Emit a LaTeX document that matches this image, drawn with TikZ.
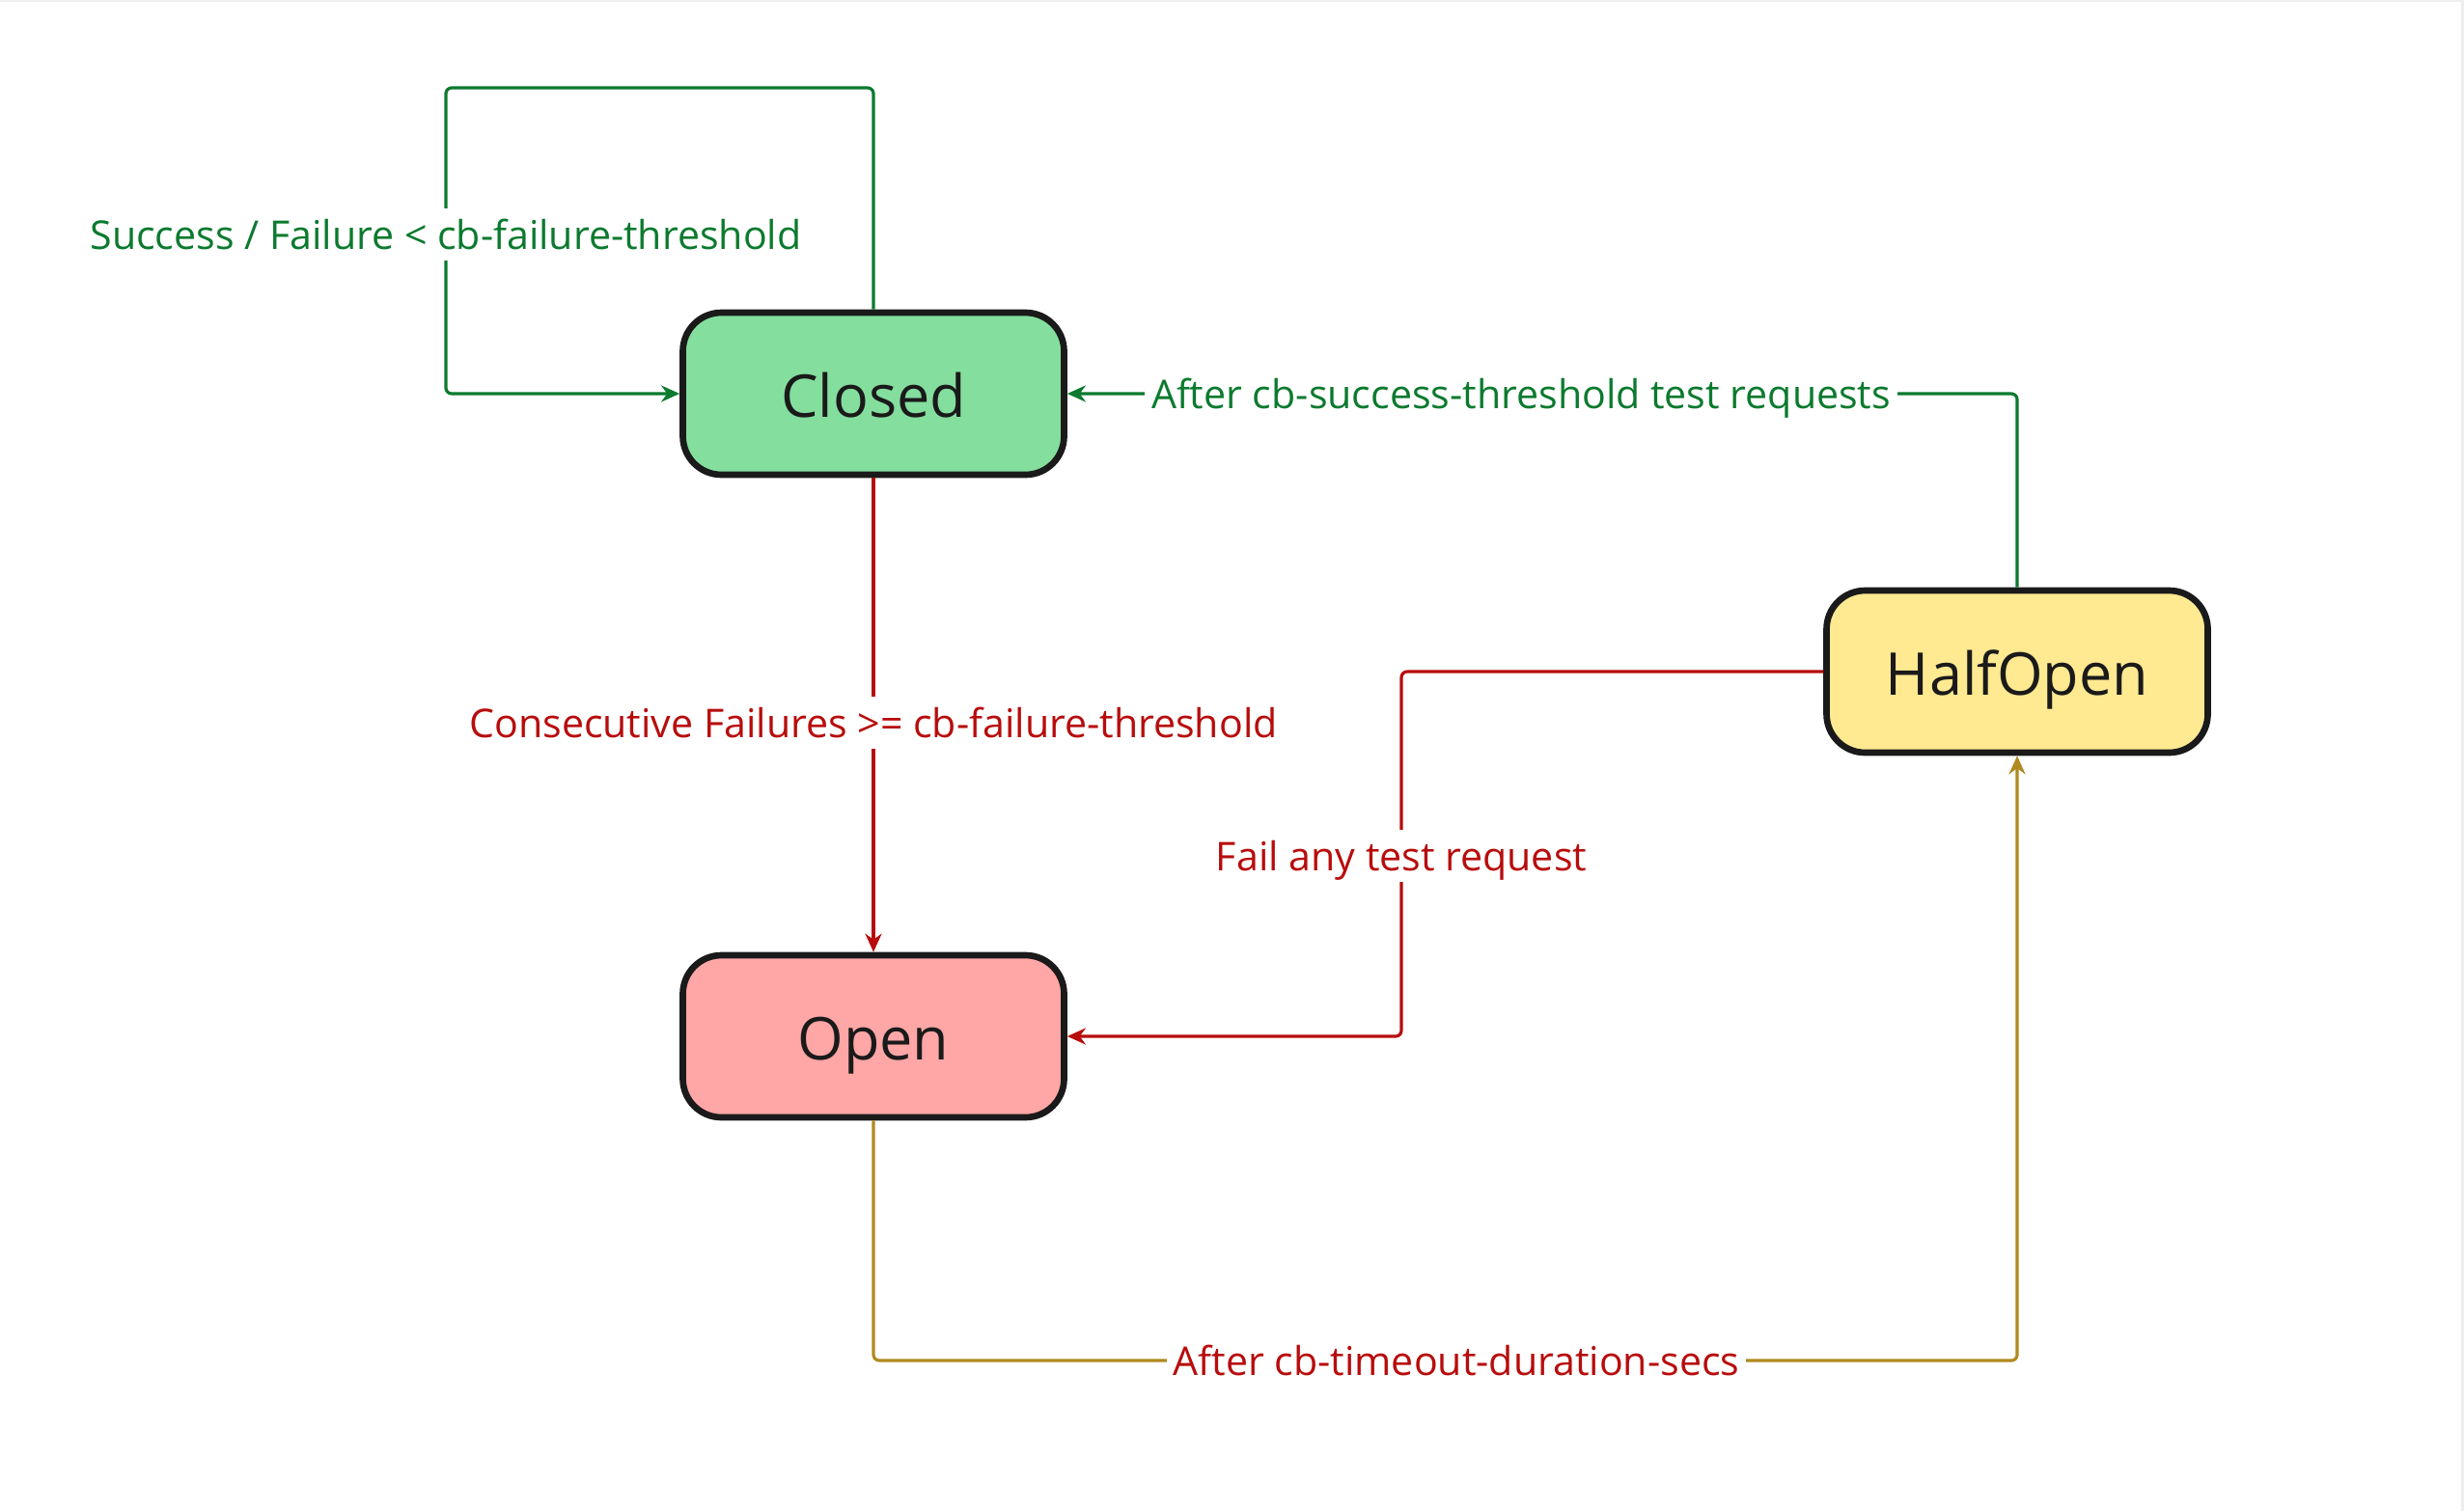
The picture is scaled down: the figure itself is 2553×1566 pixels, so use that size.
\documentclass[tikz,border=0pt]{standalone}
\usepackage{fontspec}
\setmainfont{Open Sans}
\usetikzlibrary{arrows.meta}
\definecolor{cgreen}{HTML}{0B7A2E}
\definecolor{cred}{HTML}{B80C0C}
\definecolor{cgold}{HTML}{B08A1E}
\definecolor{fgreen}{HTML}{84DE9E}
\definecolor{fred}{HTML}{FFA6A6}
\definecolor{fyellow}{HTML}{FFE991}
\definecolor{bord}{HTML}{1A1A1A}
\definecolor{edge}{HTML}{EEEEEE}
\tikzset{
  state/.style={draw=bord, line width=1.9pt, rounded corners=4mm, minimum width=39.5mm, minimum height=16.8mm, font=\fontsize{17.4}{20}\selectfont, text=bord, inner sep=0pt, text height=14.1pt, text depth=0pt},
  conn/.style={line width=0.9pt, rounded corners=0.6mm, -{Stealth[length=1.9mm, width=1.7mm]}},
  lbl/.style={fill=white, font=\fontsize{11.7}{14}\selectfont, inner xsep=2pt, inner ysep=3.3pt, text height=9pt, text depth=0pt}
}
\begin{document}
\begin{tikzpicture}[x=0.1mm, y=-0.1mm]
\useasboundingbox[fill=white] (0,0) rectangle (2553,1566);
\draw[edge, line width=0.3mm] (0,1) -- (2553,1);
\draw[edge, line width=0.3mm] (2551,0) -- (2551,1566);
\node[state, fill=fgreen] (closed) at (905,408) {Closed};
\node[state, fill=fred] (open) at (905,1074) {Open};
\node[state, fill=fyellow] (half) at (2090,696) {HalfOpen};

% self loop
\coordinate (l1) at (905,91);
\coordinate (l2) at (462,91);
\coordinate (l3) at (462,408);
\draw[conn, cgreen] (closed.north) -- (l1) -- (l2) -- (l3) -- (closed.west);
\node[lbl, text=cgreen] (lself) at (462,243) {Success / Failure < cb-failure-threshold};

% closed -> open
\draw[conn, cred] (closed.south) -- (open.north);
\node[lbl, text=cred] (lfail) at (905,749) {Consecutive Failures >= cb-failure-threshold};

% half -> closed
\coordinate (h1) at (2090,408);
\draw[conn, cgreen] (half.north) -- (h1) -- (closed.east);
\node[lbl, text=cgreen] (lsucc) at (1576,408) {After cb-success-threshold test requests};

% half -> open
\coordinate (f1) at (1452,696);
\coordinate (f2) at (1452,1074);
\draw[conn, cred] (half.west) -- (f1) -- (f2) -- (open.east);
\node[lbl, text=cred] (lany) at (1452,887) {Fail any test request};

% open -> half
\coordinate (o1) at (905,1410);
\coordinate (o2) at (2090,1410);
\draw[conn, cgold] (open.south) -- (o1) -- (o2) -- (half.south);
\node[lbl, text=cred] (ltime) at (1509,1410) {After cb-timeout-duration-secs};
\end{tikzpicture}
\end{document}
